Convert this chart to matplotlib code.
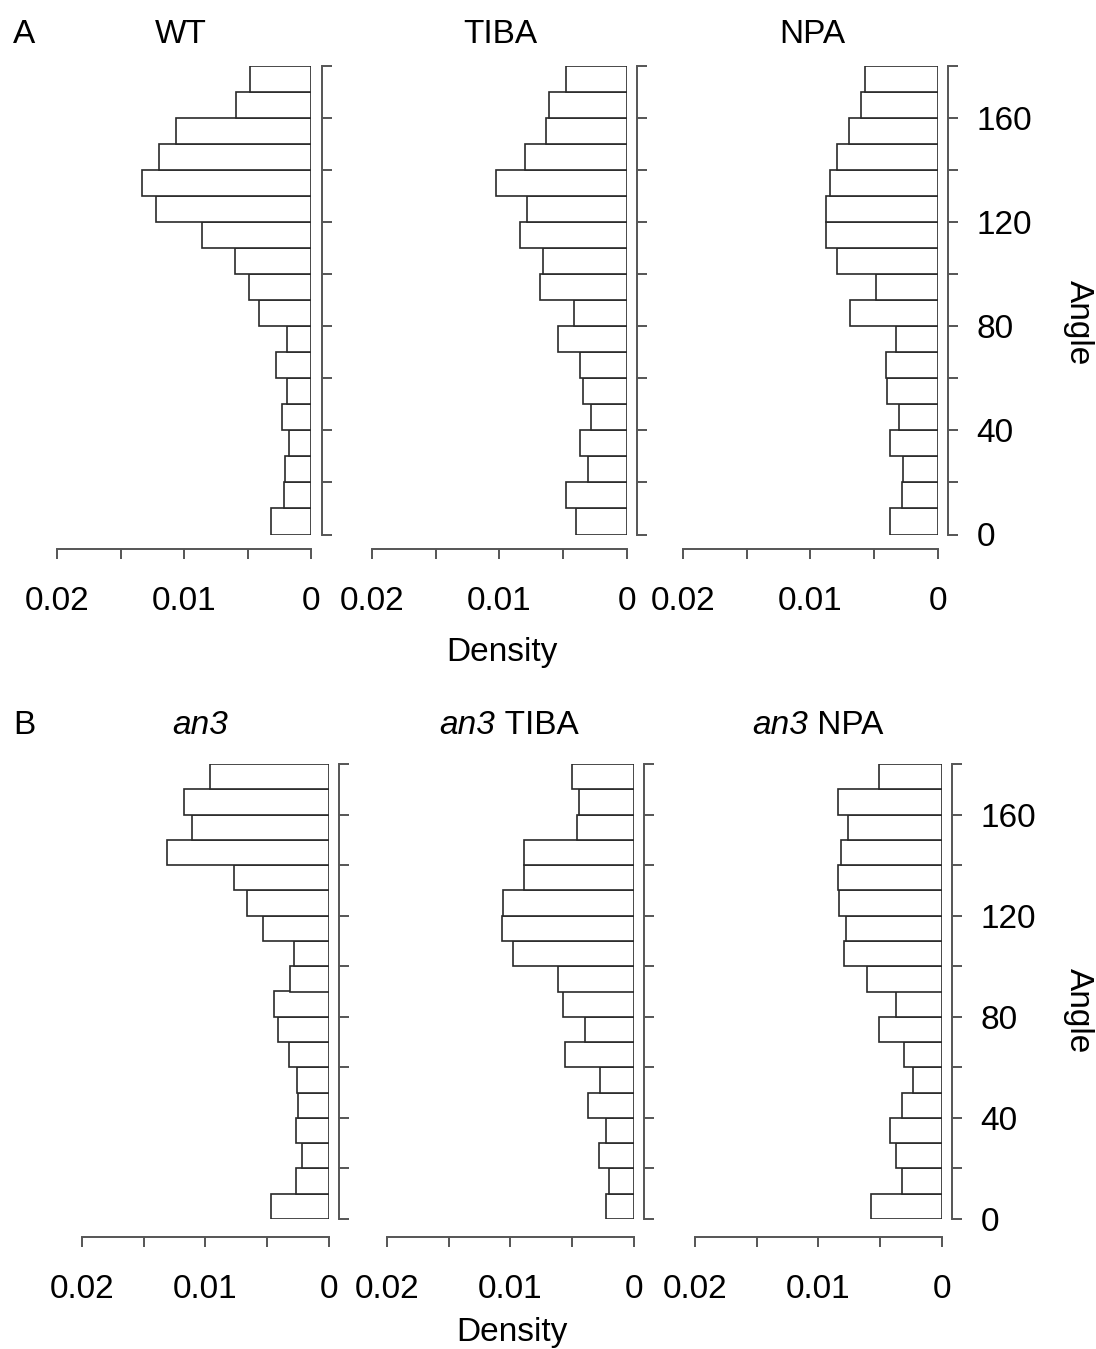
import numpy as np
import matplotlib
matplotlib.use("Agg")
import matplotlib.pyplot as plt

plt.rcParams['font.family'] = ['Liberation Sans', 'DejaVu Sans']
plt.rcParams['font.size'] = 24

# --------------------
# Data: density per 10-degree angle bin, bins 0-10 ... 170-180
# --------------------
bin_edges = np.arange(0, 190, 10)

wt = [0.00315, 0.00218, 0.00210, 0.00176, 0.00229, 0.00192, 0.00281, 0.00192, 0.00409,
      0.00493, 0.00605, 0.00859, 0.01222, 0.01332, 0.01196, 0.01068, 0.00594, 0.00487]
tiba = [0.00395, 0.00473, 0.00300, 0.00363, 0.00282, 0.00342, 0.00363, 0.00541, 0.00410,
        0.00677, 0.00654, 0.00839, 0.00779, 0.01030, 0.00798, 0.00635, 0.00610, 0.00478]
npa = [0.00376, 0.00282, 0.00275, 0.00371, 0.00300, 0.00395, 0.00403, 0.00324, 0.00685,
       0.00486, 0.00787, 0.00881, 0.00881, 0.00847, 0.00787, 0.00700, 0.00599, 0.00573]

an3 = [0.00464, 0.00265, 0.00213, 0.00265, 0.00251, 0.00257, 0.00324, 0.00413, 0.00446,
       0.00310, 0.00281, 0.00532, 0.00659, 0.00764, 0.01312, 0.01107, 0.01175, 0.00962]
an3_tiba = [0.00224, 0.00200, 0.00283, 0.00227, 0.00370, 0.00270, 0.00559, 0.00397, 0.00572,
            0.00610, 0.00980, 0.01069, 0.01058, 0.00893, 0.00893, 0.00456, 0.00440, 0.00502]
an3_npa = [0.00575, 0.00324, 0.00367, 0.00421, 0.00324, 0.00235, 0.00308, 0.00508, 0.00367,
           0.00602, 0.00796, 0.00777, 0.00834, 0.00842, 0.00815, 0.00761, 0.00842, 0.00508]

x_ticks = [0.02, 0.015, 0.01, 0.005, 0]
x_ticklabels = ['0.02', '', '0.01', '', '0']
y_ticks = list(range(0, 200, 20))
y_ticklabels = ['0', '', '40', '', '80', '', '120', '', '160', '']

W, H = 1096, 1349
fig = plt.figure(figsize=(W / 100, H / 100), dpi=100)

edge = '#2a2a2a'
axc = '#555555'


def px_axes(x0, x1, ytop, ybot):
    # axes placed in pixel coords (x0 = density 0.02, x1 = density 0)
    return fig.add_axes([x0 / W, 1 - ybot / H, (x1 - x0) / W, (ybot - ytop) / H])


def title_text(xc, yb, italic_part, plain_part):
    # italic gene name followed by upright treatment name, centred as a pair
    fx, fy = xc / W, 1 - yb / H
    if not plain_part:
        fig.text(fx, fy, italic_part, ha='center', va='baseline', style='italic')
        return
    if not italic_part:
        fig.text(fx, fy, plain_part, ha='center', va='baseline')
        return
    t1 = fig.text(fx, fy, italic_part, ha='left', va='baseline', style='italic')
    t2 = fig.text(fx, fy, ' ' + plain_part, ha='left', va='baseline')
    fig.canvas.draw()
    r = fig.canvas.get_renderer()
    w1 = t1.get_window_extent(r).width
    w2 = t2.get_window_extent(r).width
    left = xc - (w1 + w2) / 2
    t1.set_x(left / W)
    t2.set_x((left + w1) / W)


def hist_panel(ax, dens, show_ylabels, x_out):
    ax.barh(bin_edges[:-1], dens, height=10, align='edge', color='white',
            edgecolor=edge, linewidth=1.2)
    ax.set_xlim(0.02, 0)
    ax.set_ylim(0, 180)
    for s in ['top', 'left']:
        ax.spines[s].set_visible(False)
    ax.spines['bottom'].set_position(('outward', x_out * 0.72))
    ax.spines['bottom'].set_bounds(0, 0.02)
    ax.spines['right'].set_position(('outward', 10.5 * 0.72))
    ax.spines['right'].set_bounds(0, 180)
    for s in ['bottom', 'right']:
        ax.spines[s].set_color(axc)
        ax.spines[s].set_linewidth(1.4)
    ax.set_xticks(x_ticks)
    ax.set_xticklabels(x_ticklabels)
    ax.yaxis.tick_right()
    ax.set_yticks(y_ticks)
    ax.set_yticklabels(y_ticklabels if show_ylabels else [''] * len(y_ticks))
    ax.tick_params(axis='x', length=7.2, width=1.4, color=axc, pad=19.5, labelsize=24)
    ax.tick_params(axis='y', length=7.2, width=1.4, color=axc, pad=13, labelsize=24)
    ax.patch.set_visible(False)


# --------------------
# Panel A
# --------------------
ya_top, ya_bot = 65.5, 534.5
ax = px_axes(57, 311.5, ya_top, ya_bot)
hist_panel(ax, wt, False, 14.5)
ax = px_axes(372, 626.7, ya_top, ya_bot)
hist_panel(ax, tiba, False, 14.5)
ax = px_axes(683, 937.7, ya_top, ya_bot)
hist_panel(ax, npa, True, 14.5)

title_text(181, 43, '', 'WT')
title_text(500, 43, '', 'TIBA')
title_text(812, 43, '', 'NPA')

fig.text(13 / W, 1 - 43 / H, 'A', ha='left', va='baseline')
fig.text(502 / W, 1 - 653 / H, 'Density', ha='center', va='center')
fig.text(1078 / W, 1 - 323 / H, 'Angle', ha='center', va='center', rotation=270)

# --------------------
# Panel B
# --------------------
yb_top, yb_bot = 764, 1219
ax = px_axes(82, 328.7, yb_top, yb_bot)
hist_panel(ax, an3, False, 18)
ax = px_axes(387, 633.7, yb_top, yb_bot)
hist_panel(ax, an3_tiba, False, 18)
ax = px_axes(695, 941.7, yb_top, yb_bot)
hist_panel(ax, an3_npa, True, 18)

title_text(200, 734, 'an3', '')
title_text(509, 734, 'an3', 'TIBA')
title_text(818, 734, 'an3', 'NPA')

fig.text(13 / W, 1 - 734 / H, 'B', ha='left', va='baseline')
fig.text(512 / W, 1 - 1333 / H, 'Density', ha='center', va='center')
fig.text(1078 / W, 1 - 1011 / H, 'Angle', ha='center', va='center', rotation=270)

fig.savefig('out.png', dpi=100, facecolor='white')
